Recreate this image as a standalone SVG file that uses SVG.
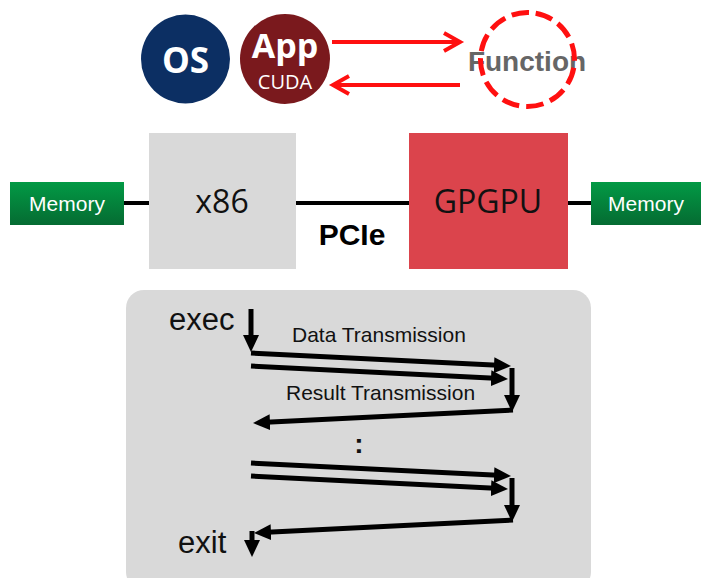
<svg xmlns="http://www.w3.org/2000/svg" width="704" height="578" viewBox="0 0 704 578">
  <style>
    .sans { font-family: "Liberation Sans", Arial, sans-serif; }
    .open { font-family: "Open Sans", "Liberation Sans", sans-serif; }
    .wire { stroke: #000; stroke-width: 4; fill: none; }
    .flow { stroke: #000; stroke-width: 5; fill: none; marker-end: url(#head); }
    .call { stroke: #ff1010; stroke-width: 4; fill: none; stroke-linejoin: miter; }
    .mem-label { fill: #fff; font-size: 21px; text-anchor: middle; }
    .chip-label { fill: #111; font-size: 32px; text-anchor: middle; }
    .step { fill: #111; font-size: 21px; }
  </style>
  <defs>
    <linearGradient id="memFill" x1="0" y1="0" x2="0" y2="1">
      <stop offset="0" stop-color="#029a45"/>
      <stop offset="1" stop-color="#056b32"/>
    </linearGradient>
    <marker id="head" viewBox="0 0 17 16" markerWidth="17" markerHeight="16" refX="9" refY="8" orient="auto" markerUnits="userSpaceOnUse">
      <path d="M0,0 L17,8 L0,16 z" fill="#000"/>
    </marker>
  </defs>

  <!-- software layer -->
  <g id="os">
    <circle cx="185.5" cy="59" r="44.5" fill="#0c2f63"/>
    <text x="185.5" y="73" class="open" font-size="35" font-weight="700" fill="#fff" text-anchor="middle">OS</text>
  </g>
  <g id="app">
    <circle cx="285" cy="59" r="45" fill="#7a191d"/>
    <text x="285" y="58" class="open" font-size="34" font-weight="700" fill="#fff" text-anchor="middle">App</text>
    <text x="285" y="89" class="open" font-size="20" fill="#fff" text-anchor="middle">CUDA</text>
  </g>
  <g id="function">
    <text x="527" y="71" class="sans" font-size="28" font-weight="700" fill="#666" text-anchor="middle">Function</text>
    <circle cx="527.5" cy="59.5" r="47" fill="none" stroke="#ff1010" stroke-width="5" stroke-dasharray="17.5 7.1" transform="rotate(-80 527.5 59.5)"/>
  </g>

  <!-- hardware layer -->
  <g id="memory-host">
    <rect x="10" y="182" width="114" height="43" fill="url(#memFill)"/>
    <text x="67" y="211" class="sans mem-label">Memory</text>
  </g>
  <g id="x86">
    <rect x="149" y="133" width="147" height="136" fill="#d9d9d9"/>
    <text x="222" y="213" class="open chip-label">x86</text>
  </g>
  <g id="gpgpu">
    <rect x="409" y="133" width="159" height="136" fill="#db444c"/>
    <text x="488" y="213" class="open chip-label">GPGPU</text>
  </g>
  <g id="memory-device">
    <rect x="591" y="182" width="110" height="43" fill="url(#memFill)"/>
    <text x="646" y="211" class="sans mem-label">Memory</text>
  </g>
  <g id="pcie-label">
    <text x="352" y="245" class="sans" font-size="30" font-weight="700" fill="#000" text-anchor="middle">PCIe</text>
  </g>

  <!-- execution timeline -->
  <g id="timeline">
    <rect x="126" y="290" width="465" height="300" rx="18" fill="#d9d9d9"/>
    <text x="169" y="330" class="sans" font-size="31" fill="#111">exec</text>
    <text x="292" y="342" class="sans step">Data Transmission</text>
    <text x="286" y="400" class="sans step">Result Transmission</text>
    <text x="359" y="453" class="sans" font-size="28" font-weight="700" fill="#111" text-anchor="middle">:</text>
    <text x="178" y="553" class="sans" font-size="31" fill="#111">exit</text>
  </g>

  <g id="connectors">
    <!-- buses -->
    <path class="wire" d="M124,203 H149"/>
    <path class="wire" d="M296,203 H409"/>
    <path class="wire" d="M568,203 H591"/>
    <!-- call / return -->
    <path class="call" d="M332,42 H458 M444,33 L460,42 L444,51"/>
    <path class="call" d="M460,85 H335 M349,76 L333,85 L349,94"/>
    <!-- first round trip -->
    <path class="flow" d="M251,309 V344"/>
    <path class="flow" d="M251,353 L503,365.6"/>
    <path class="flow" d="M251,366 L500,378.6"/>
    <path class="flow" d="M512,368 V404"/>
    <path class="flow" d="M513,410 L261,422.6"/>
    <!-- last round trip -->
    <path class="flow" d="M251,463 L503,475.6"/>
    <path class="flow" d="M251,476 L500,488.6"/>
    <path class="flow" d="M512,478 V514"/>
    <path class="flow" d="M513,520 L262,532.6"/>
    <path class="flow" d="M252,531 V549"/>
  </g>
</svg>
